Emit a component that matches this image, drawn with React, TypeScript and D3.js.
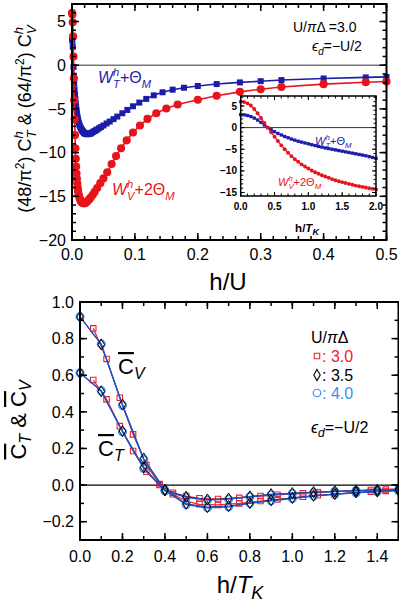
import React from 'react';
import * as d3 from 'd3';

// ---------- Top panel: W_T^h+Θ_M (blue squares) vs h/U ----------
const topTH = [0, 0.0006, 0.0012, 0.0018, 0.0024, 0.003, 0.0036, 0.0042, 0.0048, 0.0054, 0.006, 0.0066, 0.0072, 0.0078, 0.0084, 0.009, 0.0096, 0.0102, 0.011, 0.012, 0.013, 0.014, 0.015, 0.016, 0.017, 0.018, 0.019, 0.02, 0.021, 0.022, 0.023, 0.024, 0.025, 0.026, 0.027, 0.028, 0.029, 0.03, 0.032, 0.034, 0.036, 0.038, 0.04, 0.043, 0.046, 0.05, 0.055, 0.06, 0.066, 0.072, 0.08, 0.088, 0.097, 0.107, 0.118, 0.13, 0.144, 0.16, 0.178, 0.2, 0.23, 0.267, 0.3, 0.333, 0.4, 0.467, 0.5];
const topTV = [3.0, 2.8, 2.1, 1.0, -0.2, -1.2, -2.1, -2.8, -3.4, -3.9, -4.4, -4.8, -5.15, -5.5, -5.8, -6.05, -6.25, -6.45, -6.65, -6.85, -7.05, -7.2, -7.35, -7.45, -7.55, -7.65, -7.72, -7.78, -7.83, -7.86, -7.88, -7.89, -7.89, -7.88, -7.86, -7.84, -7.81, -7.78, -7.7, -7.62, -7.53, -7.44, -7.35, -7.22, -7.08, -6.9, -6.67, -6.45, -6.17, -5.88, -5.5, -5.12, -4.7, -4.28, -3.86, -3.45, -3.1, -2.8, -2.58, -2.38, -2.16, -1.97, -1.83, -1.7, -1.52, -1.4, -1.34];

// ---------- Top panel: W_V^h+2Θ_M (red circles) vs h/U ----------
const topVH = [0, 0.0006, 0.0012, 0.0018, 0.0024, 0.003, 0.0036, 0.0042, 0.0048, 0.0054, 0.006, 0.0066, 0.0072, 0.0078, 0.0084, 0.009, 0.0096, 0.0102, 0.011, 0.012, 0.013, 0.014, 0.015, 0.016, 0.017, 0.018, 0.019, 0.02, 0.021, 0.022, 0.023, 0.024, 0.026, 0.028, 0.03, 0.033, 0.036, 0.04, 0.045, 0.05, 0.056, 0.063, 0.07, 0.078, 0.087, 0.097, 0.108, 0.12, 0.134, 0.15, 0.168, 0.2, 0.23, 0.267, 0.3, 0.333, 0.4, 0.467, 0.5];
const topVV = [6.0, 5.8, 4.9, 3.3, 1.0, -1.5, -4.0, -6.2, -8.0, -9.5, -10.7, -11.6, -12.4, -13.0, -13.55, -14.0, -14.35, -14.65, -14.95, -15.2, -15.4, -15.55, -15.65, -15.72, -15.77, -15.8, -15.8, -15.79, -15.76, -15.72, -15.66, -15.6, -15.46, -15.3, -15.12, -14.82, -14.5, -14.05, -13.5, -12.95, -12.25, -11.3, -10.4, -9.5, -8.6, -7.7, -6.9, -6.15, -5.5, -4.95, -4.5, -3.95, -3.5, -3.05, -2.75, -2.5, -2.17, -1.95, -1.87];

// ---------- Inset: vs h/T_K ----------
const insetX = [0, 0.05, 0.1, 0.15, 0.2, 0.25, 0.3, 0.35, 0.4, 0.45, 0.5, 0.55, 0.6, 0.65, 0.7, 0.75, 0.8, 0.85, 0.9, 0.95, 1.0, 1.05, 1.1, 1.15, 1.2, 1.25, 1.3, 1.35, 1.4, 1.45, 1.5, 1.55, 1.6, 1.65, 1.7, 1.75, 1.8, 1.85, 1.9, 1.95, 2.0];
const insetT = [3.0, 2.95, 2.8, 2.55, 2.2, 1.75, 1.2, 0.6, 0.0, -0.5, -0.95, -1.35, -1.7, -2.05, -2.35, -2.65, -2.9, -3.15, -3.35, -3.55, -3.75, -3.95, -4.15, -4.35, -4.5, -4.7, -4.85, -5.0, -5.15, -5.3, -5.45, -5.6, -5.75, -5.9, -6.05, -6.2, -6.35, -6.5, -6.7, -6.9, -7.1];
const insetV = [6.0, 5.9, 5.6, 5.1, 4.3, 3.3, 2.2, 1.1, 0.0, -1.1, -2.1, -3.1, -4.1, -5.0, -5.8, -6.6, -7.3, -7.9, -8.5, -9.0, -9.45, -9.9, -10.3, -10.65, -11.0, -11.3, -11.6, -11.9, -12.15, -12.4, -12.6, -12.8, -13.0, -13.2, -13.4, -13.55, -13.7, -13.85, -14.0, -14.15, -14.3];

// ---------- Bottom panel: C̄_T and C̄_V vs h/T_K ----------
const hGrid = [0, 0.1, 0.2, 0.3, 0.4, 0.5, 0.6, 0.7, 0.8, 0.9, 1.0, 1.1, 1.2, 1.3, 1.4, 1.5];
const cv40 = [0.92, 0.77, 0.436, 0.14, -0.028, -0.106, -0.124, -0.118, -0.1, -0.086, -0.073, -0.06, -0.051, -0.042, -0.036, -0.03];
const ct40 = [0.614, 0.515, 0.291, 0.091, -0.032, -0.067, -0.082, -0.077, -0.064, -0.053, -0.046, -0.04, -0.035, -0.031, -0.027, -0.024];
const cv35 = [0.918, 0.768, 0.44, 0.145, -0.025, -0.102, -0.12, -0.115, -0.098, -0.083, -0.07, -0.058, -0.049, -0.04, -0.035, -0.029];
const ct35 = [0.612, 0.512, 0.295, 0.097, -0.029, -0.064, -0.079, -0.074, -0.062, -0.05, -0.044, -0.038, -0.034, -0.03, -0.026, -0.023];
const h30 = [0.0625, 0.125, 0.1875, 0.25, 0.3125, 0.375, 0.4375, 0.5, 0.5625, 0.65, 0.75, 0.85, 0.93, 1.05, 1.12, 1.2, 1.3, 1.37, 1.44, 1.5];
const cv30 = [0.856, 0.689, 0.477, 0.277, 0.109, 0.005, -0.05, -0.088, -0.105, -0.108, -0.1, -0.087, -0.078, -0.064, -0.056, -0.049, -0.041, -0.036, -0.032, -0.029];
const ct30 = [0.574, 0.468, 0.322, 0.186, 0.073, 0.0, -0.042, -0.06, -0.072, -0.076, -0.07, -0.06, -0.053, -0.045, -0.04, -0.036, -0.031, -0.027, -0.024, -0.022];

// ---------- Ticks ----------
const topXMajor = [0, 0.1, 0.2, 0.3, 0.4, 0.5];
const topXLabels = ['0.0', '0.1', '0.2', '0.3', '0.4', '0.5'];
const topYMajor = [-20, -15, -10, -5, 0, 5];
const topYLabels = ['\u221220', '\u221215', '\u221210', '\u22125', '0', '5'];
const insXMajor = [0, 0.5, 1, 1.5, 2];
const insXLabels = ['0.0', '0.5', '1.0', '1.5', '2.0'];
const insYMajor = [-15, -10, -5, 0, 5];
const insYLabels = ['\u221215', '\u221210', '\u22125', '0', '5'];
const botXMajor = [0, 0.2, 0.4, 0.6, 0.8, 1.0, 1.2, 1.4];
const botXLabels = ['0.0', '0.2', '0.4', '0.6', '0.8', '1.0', '1.2', '1.4'];
const botYMajor = [-0.2, 0, 0.2, 0.4, 0.6, 0.8, 1.0];
const botYLabels = ['\u22120.2', '0.0', '0.2', '0.4', '0.6', '0.8', '1.0'];

const FONT = "'Liberation Sans', Arial, Helvetica, sans-serif";
const RED = '#e8141c';
const BLUE = '#1c1ca8';
const LRED = '#f0202a';
const LBLUE = '#3f8fef';
const LINEBLUE = '#1d55cc';

type Sc = d3.ScaleLinear<number, number>;

function steps(a: number, b: number, s: number) {
  const n = Math.round((b - a) / s);
  return d3.range(n + 1).map((i) => +(a + i * s).toFixed(6));
}

function FrameTicks(props: { xs: Sc; ys: Sc; xMaj: number[]; xMin: number[]; yMaj: number[]; yMin: number[]; lMaj: number; lMin: number; sw: number; id: string }) {
  const { xs, ys, xMaj, xMin, yMaj, yMin, lMaj, lMin, sw, id } = props;
  const [x0, x1] = xs.range();
  const [yb, yt] = ys.range();
  const out: any[] = [];
  const add = (k: string, a: number, b: number, c: number, d: number) =>
    out.push(<line key={id + k} x1={a} y1={b} x2={c} y2={d} stroke="#000" strokeWidth={sw} />);
  xMin.forEach((v, i) => { const x = xs(v); add('xmb' + i, x, yb, x, yb - lMin); add('xmt' + i, x, yt, x, yt + lMin); });
  xMaj.forEach((v, i) => { const x = xs(v); add('xb' + i, x, yb, x, yb - lMaj); add('xt' + i, x, yt, x, yt + lMaj); });
  yMin.forEach((v, i) => { const y = ys(v); add('yml' + i, x0, y, x0 + lMin, y); add('ymr' + i, x1, y, x1 - lMin, y); });
  yMaj.forEach((v, i) => { const y = ys(v); add('yl' + i, x0, y, x0 + lMaj, y); add('yr' + i, x1, y, x1 - lMaj, y); });
  return <g>{out}</g>;
}

function WLabel(props: { x: number; y: number; fs: number; sub: string; rest: string; color: string }) {
  const { x, y, fs, sub, rest, color } = props;
  return (
    <text x={x} y={y} fontSize={fs} fill={color}>
      <tspan fontStyle="italic">W</tspan>
      <tspan dy={-0.42 * fs} fontSize={0.7 * fs} fontStyle="italic">h</tspan>
      <tspan dx={-0.39 * fs} dy={0.72 * fs} fontSize={0.7 * fs} fontStyle="italic">{sub}</tspan>
      <tspan dy={-0.3 * fs}>{rest}</tspan>
      <tspan dy={0.3 * fs} fontSize={0.7 * fs} fontStyle="italic">M</tspan>
    </text>
  );
}

export default function App() {
  // scales
  const xs1 = d3.scaleLinear().domain([0, 0.5]).range([72, 386.5]);
  const ys1 = d3.scaleLinear().domain([-20, 7]).range([240, 4]);
  const xi = d3.scaleLinear().domain([0, 2]).range([240.7, 376]);
  const yi = d3.scaleLinear().domain([-15.8, 7.3]).range([196, 96]);
  const xs2 = d3.scaleLinear().domain([0, 1.5]).range([80, 398.5]);
  const ys2 = d3.scaleLinear().domain([-0.3, 1.0]).range([540, 302]);

  const line1 = (hs: number[], vs: number[]) =>
    d3.line<number>().x((_, i) => xs1(hs[i])).y((v) => ys1(v))(vs) || '';
  const lineI = (vs: number[]) => d3.line<number>().x((_, i) => xi(insetX[i])).y((v) => yi(v))(vs) || '';
  const line2 = (hs: number[], vs: number[]) =>
    d3.line<number>().x((_, i) => xs2(hs[i])).y((v) => ys2(v))(vs) || '';

  const sq = (s: number) => d3.symbol().type(d3.symbolSquare).size(s)() || '';
  const circ = (s: number) => d3.symbol().type(d3.symbolCircle).size(s)() || '';
  const diam = (s: number) => d3.symbol().type(d3.symbolDiamond).size(s)() || '';

  const sqMain = sq(36), ciMain = circ(52);
  const sqIns = sq(11), ciIns = circ(12);
  const sqBot = sq(30), diBot = diam(36), ciBot = circ(44);

  return (
    <svg width={399} height={608} style={{ position: 'absolute', left: 0, top: 0, background: '#fff' }} fontFamily={FONT}>
      <rect x={0} y={0} width={399} height={608} fill="#fff" />
      {/* ================= TOP PANEL ================= */}
      <line x1={xs1(0)} x2={xs1(0.5)} y1={ys1(0)} y2={ys1(0)} stroke="#333" strokeWidth={1} />
      <path d={line1(topTH, topTV)} fill="none" stroke={BLUE} strokeWidth={1.6} />
      {topTV.map((v, i) => (
        <path key={'bt' + i} d={sqMain} transform={`translate(${xs1(topTH[i])},${ys1(v)})`} fill={BLUE} />
      ))}
      <path d={line1(topVH, topVV)} fill="none" stroke={RED} strokeWidth={1.6} />
      {topVV.map((v, i) => (
        <path key={'rv' + i} d={ciMain} transform={`translate(${xs1(topVH[i])},${ys1(v)})`} fill={RED} />
      ))}
      <FrameTicks id="t" xs={xs1} ys={ys1} xMaj={topXMajor} xMin={steps(0, 0.5, 0.02)} yMaj={topYMajor} yMin={steps(-20, 7, 1)} lMaj={7} lMin={4} sw={1.5} />
      <rect x={72} y={4} width={314.5} height={236} fill="none" stroke="#000" strokeWidth={2} />
      {topXMajor.map((v, i) => (
        <text key={'tx' + i} x={xs1(v)} y={260} fontSize={16} textAnchor="middle">{topXLabels[i]}</text>
      ))}
      {topYMajor.map((v, i) => (
        <text key={'ty' + i} x={66} y={ys1(v)} dy="0.36em" fontSize={16} textAnchor="end">{topYLabels[i]}</text>
      ))}
      <text x={228} y={290} fontSize={24} textAnchor="middle">h/U</text>
      <text transform="translate(31,119) rotate(-90)" fontSize={18} textAnchor="middle">
        (48/π<tspan dy={-7} fontSize={12}>2</tspan>
        <tspan dy={7}>) C</tspan>
        <tspan dy={-8} fontSize={13} fontStyle="italic">h</tspan>
        <tspan dx={-7} dy={13} fontSize={13} fontStyle="italic">T</tspan>
        <tspan dy={-5}>{'  &  (64/π'}</tspan>
        <tspan dy={-7} fontSize={12}>2</tspan>
        <tspan dy={7}>) C</tspan>
        <tspan dy={-8} fontSize={13} fontStyle="italic">h</tspan>
        <tspan dx={-7} dy={13} fontSize={13} fontStyle="italic">V</tspan>
      </text>
      <WLabel x={98} y={83} fs={16} sub="T" rest="+Θ" color={BLUE} />
      <WLabel x={112} y={195} fs={16} sub="V" rest="+2Θ" color={RED} />
      <text x={293} y={32} fontSize={14}>U/<tspan fontStyle="italic">π</tspan>Δ =3.0</text>
      <text x={312} y={51} fontSize={14}>
        <tspan fontStyle="italic">ϵ</tspan>
        <tspan dy={4} fontSize={10} fontStyle="italic">d</tspan>
        <tspan dy={-4}>=−U/2</tspan>
      </text>

      {/* ================= INSET ================= */}
      <rect x={240.7} y={96} width={135.3} height={100} fill="#fff" />
      <line x1={xi(0)} x2={xi(2)} y1={yi(0)} y2={yi(0)} stroke="#000" strokeWidth={0.8} />
      <path d={lineI(insetT)} fill="none" stroke={BLUE} strokeWidth={1.2} />
      {insetT.map((v, i) => (
        <path key={'ib' + i} d={sqIns} transform={`translate(${xi(insetX[i])},${yi(v)})`} fill={BLUE} />
      ))}
      <path d={lineI(insetV)} fill="none" stroke={RED} strokeWidth={1.2} />
      {insetV.map((v, i) => (
        <path key={'ir' + i} d={ciIns} transform={`translate(${xi(insetX[i])},${yi(v)})`} fill={RED} />
      ))}
      <FrameTicks id="i" xs={xi} ys={yi} xMaj={insXMajor} xMin={steps(0, 2, 0.1)} yMaj={insYMajor} yMin={steps(-15, 7, 1)} lMaj={4} lMin={2.5} sw={1} />
      <rect x={240.7} y={96} width={135.3} height={100} fill="none" stroke="#000" strokeWidth={1.5} />
      {insXMajor.map((v, i) => (
        <text key={'ix' + i} x={xi(v)} y={210} fontSize={10} fontWeight="bold" textAnchor="middle">{insXLabels[i]}</text>
      ))}
      {insYMajor.map((v, i) => (
        <text key={'iy' + i} x={237} y={yi(v)} dy="0.36em" fontSize={10} fontWeight="bold" textAnchor="end">{insYLabels[i]}</text>
      ))}
      <text x={307} y={232} fontSize={11.5} fontWeight="bold" textAnchor="middle">
        h/<tspan fontStyle="italic">T</tspan>
        <tspan dy={3} fontSize={9} fontStyle="italic">K</tspan>
      </text>
      <WLabel x={315} y={145} fs={11} sub="T" rest="+Θ" color={BLUE} />
      <WLabel x={278} y={186} fs={11} sub="V" rest="+2Θ" color={RED} />

      {/* ================= BOTTOM PANEL ================= */}
      <line x1={xs2(0)} x2={xs2(1.5)} y1={ys2(0)} y2={ys2(0)} stroke="#000" strokeWidth={1.2} />
      <path d={line2(h30, cv30)} fill="none" stroke={LRED} strokeWidth={1.2} />
      <path d={line2(h30, ct30)} fill="none" stroke={LRED} strokeWidth={1.2} />
      {cv30.map((v, i) => (
        <path key={'s1' + i} d={sqBot} transform={`translate(${xs2(h30[i])},${ys2(v)})`} fill="none" stroke={LRED} strokeWidth={1.1} />
      ))}
      {ct30.map((v, i) => (
        <path key={'s2' + i} d={sqBot} transform={`translate(${xs2(h30[i])},${ys2(v)})`} fill="none" stroke={LRED} strokeWidth={1.1} />
      ))}
      {cv40.map((v, i) => (
        <path key={'c1' + i} d={ciBot} transform={`translate(${xs2(hGrid[i])},${ys2(v)})`} fill="none" stroke={LBLUE} strokeWidth={1.6} />
      ))}
      {ct40.map((v, i) => (
        <path key={'c2' + i} d={ciBot} transform={`translate(${xs2(hGrid[i])},${ys2(v)})`} fill="none" stroke={LBLUE} strokeWidth={1.6} />
      ))}
      <path d={line2(hGrid, cv35)} fill="none" stroke="#1a2a60" strokeWidth={1} />
      <path d={line2(hGrid, ct35)} fill="none" stroke="#1a2a60" strokeWidth={1} />
      <path d={line2(hGrid, cv40)} fill="none" stroke={LINEBLUE} strokeWidth={1.4} />
      <path d={line2(hGrid, ct40)} fill="none" stroke={LINEBLUE} strokeWidth={1.4} />
      {cv35.map((v, i) => (
        <path key={'d1' + i} d={diBot} transform={`translate(${xs2(hGrid[i])},${ys2(v)})`} fill="none" stroke="#000" strokeWidth={1} />
      ))}
      {ct35.map((v, i) => (
        <path key={'d2' + i} d={diBot} transform={`translate(${xs2(hGrid[i])},${ys2(v)})`} fill="none" stroke="#000" strokeWidth={1} />
      ))}
      <FrameTicks id="b" xs={xs2} ys={ys2} xMaj={botXMajor} xMin={steps(0, 1.5, 0.1)} yMaj={botYMajor} yMin={steps(-0.3, 1.0, 0.1)} lMaj={7} lMin={4} sw={1.5} />
      <rect x={80} y={302} width={318.5} height={238} fill="none" stroke="#000" strokeWidth={2} />
      {botXMajor.map((v, i) => (
        <text key={'bx' + i} x={xs2(v)} y={562} fontSize={16} textAnchor="middle">{botXLabels[i]}</text>
      ))}
      {botYMajor.map((v, i) => (
        <text key={'by' + i} x={74} y={ys2(v)} dy="0.36em" fontSize={16} textAnchor="end">{botYLabels[i]}</text>
      ))}
      <text x={240} y={593} fontSize={24} textAnchor="middle">
        h/<tspan fontStyle="italic">T</tspan>
        <tspan dy={6} fontSize={18} fontStyle="italic">K</tspan>
      </text>
      <text transform="translate(26,420) rotate(-90)" fontSize={22} textAnchor="middle">
        <tspan style={{ textDecoration: 'overline' }}>C</tspan>
        <tspan dy={5} fontSize={16} fontStyle="italic">T</tspan>
        <tspan dy={-5}>{' & '}</tspan>
        <tspan style={{ textDecoration: 'overline' }}>C</tspan>
        <tspan dy={5} fontSize={16} fontStyle="italic">V</tspan>
      </text>
      <text x={118} y={374} fontSize={22}>
        <tspan style={{ textDecoration: 'overline' }}>C</tspan>
        <tspan dy={5} fontSize={16} fontStyle="italic">V</tspan>
      </text>
      <text x={98} y={456} fontSize={22}>
        <tspan style={{ textDecoration: 'overline' }}>C</tspan>
        <tspan dy={5} fontSize={16} fontStyle="italic">T</tspan>
      </text>
      {/* legend */}
      <text x={311} y={343} fontSize={16}>U/<tspan fontStyle="italic">π</tspan>Δ</text>
      <path d={sqBot} transform="translate(317,356)" fill="none" stroke={LRED} strokeWidth={1.1} />
      <text x={322} y={362} fontSize={16} fill={LRED}>: 3.0</text>
      <path d={diBot} transform="translate(317,375)" fill="none" stroke="#000" strokeWidth={1.1} />
      <text x={322} y={381} fontSize={16} fill="#000">: 3.5</text>
      <path d={ciBot} transform="translate(317,393)" fill="none" stroke={LBLUE} strokeWidth={1.2} />
      <text x={322} y={399} fontSize={16} fill={LBLUE}>: 4.0</text>
      <text x={311} y={433} fontSize={16}>
        <tspan fontStyle="italic">ϵ</tspan>
        <tspan dy={4} fontSize={12} fontStyle="italic">d</tspan>
        <tspan dy={-4}>=−U/2</tspan>
      </text>
    </svg>
  );
}
